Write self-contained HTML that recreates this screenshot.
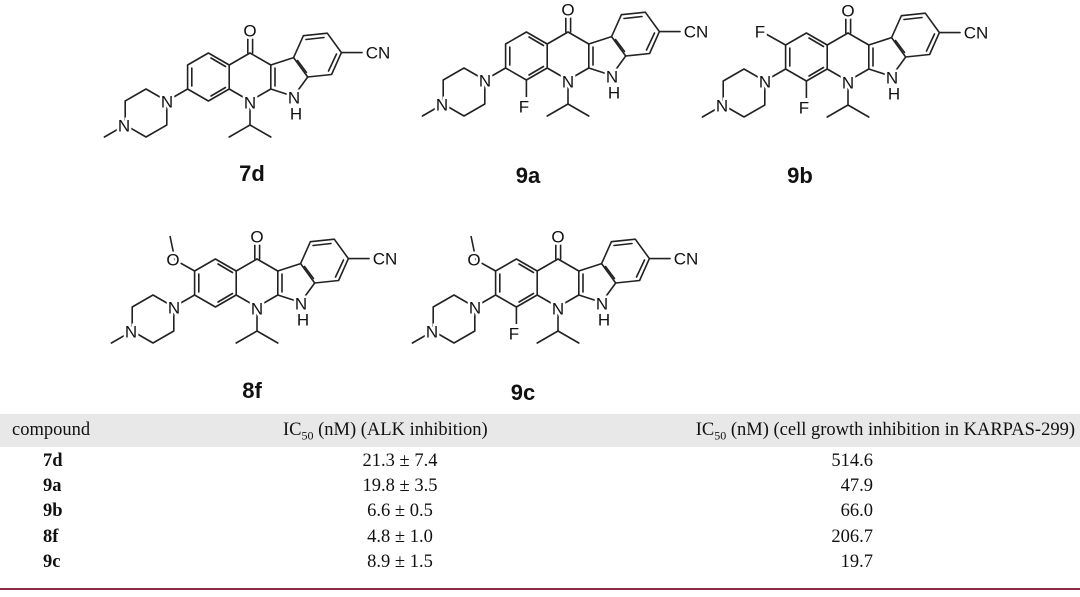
<!DOCTYPE html>
<html><head><meta charset="utf-8"><style>
body{margin:0;width:1080px;height:597px;background:#fff;position:relative;overflow:hidden;font-family:"Liberation Serif",serif;}
svg{position:absolute;left:0;top:0}
.t{position:absolute;font-size:18.5px;color:#111;white-space:nowrap;line-height:20px}
.b{font-weight:bold}
</style></head><body>
<svg width="1080" height="410" viewBox="0 0 1080 410">
<defs>
<g id="core" stroke="#222" stroke-width="1.6" fill="none" stroke-linecap="round" stroke-linejoin="round">
<polyline points="250,53 270.8,65 270.8,89 250,101 229.2,89 229.2,65 250,53"/>
<polyline points="229.2,65 208.4,53 187.6,65 187.6,89 208.4,101 229.2,89"/>
<line x1="191.8" y1="68" x2="191.8" y2="86"/>
<line x1="211" y1="58" x2="225.5" y2="66.5"/>
<line x1="211" y1="96" x2="225.5" y2="87.5"/>
<line x1="247.8" y1="53" x2="247.8" y2="39"/><line x1="252.6" y1="53" x2="252.6" y2="39"/>
<line x1="275" y1="68" x2="275" y2="86"/>
<polyline points="270.8,89 293.6,96.4 307.7,77 293.6,57.6 270.8,65"/>
<polyline points="293.6,57.6 303.4,35.7 327.3,33.2 341.4,52.6 331.6,74.5 307.7,77"/>
<line x1="306" y1="39.5" x2="324" y2="37.5"/>
<line x1="336.5" y1="54" x2="328.5" y2="71"/>
<line x1="297.5" y1="60.5" x2="306.5" y2="72.5"/>
<line x1="341.4" y1="52.6" x2="362" y2="52.6"/>
<line x1="250" y1="101" x2="250" y2="125"/>
<polyline points="229.2,137 250,125 270.8,137"/>
<line x1="187.6" y1="89" x2="166.8" y2="101"/>
<polyline points="166.8,101 166.8,125 146,137 125.2,125 125.2,101 146,89 166.8,101"/>
<line x1="125.2" y1="125" x2="104.4" y2="137"/>
</g>
<g id="fb" stroke="#222" stroke-width="1.6"><line x1="208.4" y1="101" x2="208.4" y2="118"/></g>
<g id="ft" stroke="#222" stroke-width="1.6"><line x1="187.6" y1="65" x2="168" y2="54"/></g>
<g id="ome" stroke="#222" stroke-width="1.6" fill="none"><polyline points="187.6,65 168,54 163,30"/></g>
</defs>
<style>
.a{font-family:"Liberation Sans",sans-serif;font-size:17px;fill:#111;text-anchor:middle;dominant-baseline:central;stroke:#fff;stroke-width:5px;paint-order:stroke;}
.lab{font-family:"Liberation Sans",sans-serif;font-size:22px;font-weight:bold;fill:#111;text-anchor:middle}
</style>
<g transform="translate(0,0)">
<use href="#core"/>
<text class="a" x="250" y="31">O</text><text class="a" x="250" y="103">N</text>
<text class="a" x="294" y="98">N</text><text class="a" x="296" y="114">H</text>
<text class="a" x="378" y="53">CN</text>
<text class="a" x="167" y="102">N</text><text class="a" x="124" y="126">N</text>
</g>
<g transform="translate(318,-21)">
<use href="#core"/><use href="#fb"/>
<text class="a" x="250" y="31">O</text><text class="a" x="250" y="103">N</text>
<text class="a" x="294" y="98">N</text><text class="a" x="296" y="114">H</text>
<text class="a" x="378" y="53">CN</text>
<text class="a" x="167" y="102">N</text><text class="a" x="124" y="126">N</text>
<text class="a" x="206" y="128">F</text>
</g>
<g transform="translate(598,-20)">
<use href="#core"/><use href="#fb"/><use href="#ft"/>
<text class="a" x="250" y="31">O</text><text class="a" x="250" y="103">N</text>
<text class="a" x="294" y="98">N</text><text class="a" x="296" y="114">H</text>
<text class="a" x="378" y="53">CN</text>
<text class="a" x="167" y="102">N</text><text class="a" x="124" y="126">N</text>
<text class="a" x="206" y="128">F</text><text class="a" x="162" y="52">F</text>
</g>
<g transform="translate(7,206)">
<use href="#core"/><use href="#ome"/>
<text class="a" x="250" y="31">O</text><text class="a" x="250" y="103">N</text>
<text class="a" x="294" y="98">N</text><text class="a" x="296" y="114">H</text>
<text class="a" x="378" y="53">CN</text>
<text class="a" x="167" y="102">N</text><text class="a" x="124" y="126">N</text>
<text class="a" x="166" y="54">O</text>
</g>
<g transform="translate(308,206)">
<use href="#core"/><use href="#ome"/><use href="#fb"/>
<text class="a" x="250" y="31">O</text><text class="a" x="250" y="103">N</text>
<text class="a" x="294" y="98">N</text><text class="a" x="296" y="114">H</text>
<text class="a" x="378" y="53">CN</text>
<text class="a" x="167" y="102">N</text><text class="a" x="124" y="126">N</text>
<text class="a" x="166" y="54">O</text><text class="a" x="206" y="128">F</text>
</g>
<text class="lab" x="252" y="181">7d</text>
<text class="lab" x="528" y="183">9a</text>
<text class="lab" x="800" y="183">9b</text>
<text class="lab" x="252" y="398">8f</text>
<text class="lab" x="523" y="400">9c</text>
</svg>
<div style="position:absolute;left:0;top:414px;width:1080px;height:33px;background:#e8e8e8"></div>
<div class="t" style="left:12px;top:420px">compound</div>
<div class="t" style="left:283px;top:420px">IC<sub style="font-size:12px">50</sub> (nM) (ALK inhibition)</div>
<div class="t" style="right:5px;top:420px">IC<sub style="font-size:12px">50</sub> (nM) (cell growth inhibition in KARPAS-299)</div>
<div class="t b" style="left:43px;top:451px">7d</div>
<div class="t b" style="left:43px;top:476px">9a</div>
<div class="t b" style="left:43px;top:501px">9b</div>
<div class="t b" style="left:43px;top:527px">8f</div>
<div class="t b" style="left:43px;top:552px">9c</div>
<div class="t" style="left:330px;width:140px;text-align:center;top:451px">21.3 ± 7.4</div>
<div class="t" style="left:330px;width:140px;text-align:center;top:476px">19.8 ± 3.5</div>
<div class="t" style="left:330px;width:140px;text-align:center;top:501px">6.6 ± 0.5</div>
<div class="t" style="left:330px;width:140px;text-align:center;top:527px">4.8 ± 1.0</div>
<div class="t" style="left:330px;width:140px;text-align:center;top:552px">8.9 ± 1.5</div>
<div class="t" style="right:207px;top:451px">514.6</div>
<div class="t" style="right:207px;top:476px">47.9</div>
<div class="t" style="right:207px;top:501px">66.0</div>
<div class="t" style="right:207px;top:527px">206.7</div>
<div class="t" style="right:207px;top:552px">19.7</div>
<div style="position:absolute;left:0;top:588px;width:1080px;height:2px;background:#8b2a45"></div>
</body></html>
